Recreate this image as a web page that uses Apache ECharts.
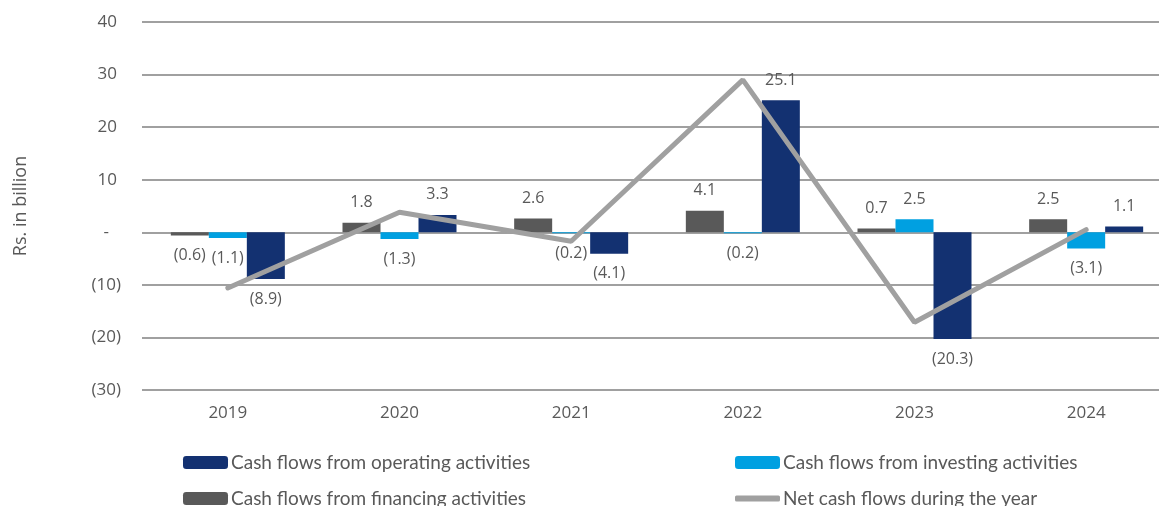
<!DOCTYPE html>
<html>
<head>
    <meta charset="utf-8"/>
    <title>Cash flows</title>
    <style>
        html, body { margin: 0; padding: 0; background: #fff; overflow: hidden; }
        /* the plot runs past the right edge of the window, as in the source image */
        #main { width: 1172px; height: 506px; }
    </style>
    <script src="https://cdn.jsdelivr.net/npm/echarts@6/dist/echarts.min.js"></script>
</head>
<body>
<div id="main"></div>
<script type="text/javascript">
    // data (Rs. in billion)
    var years = ['2019', '2020', '2021', '2022', '2023', '2024'];
    var operating = [-8.9, 3.3, -4.1, 25.1, -20.3, 1.1];
    var investing = [-1.1, -1.3, -0.2, -0.2, 2.5, -3.1];
    var financing = [-0.6, 1.8, 2.6, 4.1, 0.7, 2.5];
    var netFlows = [-10.6, 3.8, -1.7, 29.0, -17.1, 0.5];

    var names = ['Cash flows from operating activities', 'Cash flows from investing activities',
        'Cash flows from financing activities', 'Net cash flows during the year'];

    var txt = '#595959';
    var fnt = '"Open Sans", sans-serif';

    function fmt(v) {
        if (v < 0) return '(' + Math.abs(v).toFixed(1) + ')';
        return v.toFixed(1);
    }
    // negative bars get their label under the bar
    function barData(arr) {
        return arr.map(function (v) {
            return { value: v, label: { position: v < 0 ? 'bottom' : 'top' } };
        });
    }
    var barLabel = {
        show: true,
        distance: 12,
        color: txt,
        fontFamily: fnt,
        fontSize: 16,
        formatter: function (p) { return fmt(p.value); }
    };

    function legendAt(item, left, top, h) {
        return {
            data: [item],
            left: left,
            top: top,
            itemWidth: 45,
            itemHeight: h,
            textStyle: { color: txt, fontFamily: 'Lato, sans-serif', fontSize: 19, padding: [0, 0, 0, -2] },
            selectedMode: false
        };
    }

    var myChart = echarts.init(document.getElementById('main'));
    var option = {
        animation: false,
        grid: { left: 142, right: 0, top: 22, bottom: 116 },
        legend: [
            legendAt(names[0], 178, 448, 13),
            legendAt(names[1], 730, 448, 13),
            legendAt(names[2], 178, 484, 13),
            legendAt({ name: names[3], icon: 'roundRect' }, 730, 484, 6)
        ],
        xAxis: {
            type: 'category',
            data: years,
            axisLine: { show: false },
            axisTick: { show: false },
            axisLabel: { color: txt, fontFamily: fnt, fontSize: 17, margin: 15 }
        },
        yAxis: {
            type: 'value',
            min: -30,
            max: 40,
            interval: 10,
            name: 'Rs. in billion',
            nameLocation: 'middle',
            nameGap: 112,
            nameTextStyle: { color: txt, fontFamily: fnt, fontSize: 18 },
            axisLine: { show: false },
            axisTick: { show: false },
            splitLine: { lineStyle: { color: '#808080', width: 1.5 } },
            axisLabel: {
                margin: 21,
                formatter: function (v) {
                    if (v === 0) return '{z|-}';
                    if (v < 0) return '{n|(' + Math.abs(v) + ')}';
                    return '{p|' + v + '}';
                },
                rich: {
                    z: { color: txt, fontFamily: fnt, fontSize: 17, padding: [0, 12, 0, 0] },
                    n: { color: txt, fontFamily: fnt, fontSize: 17 },
                    p: { color: txt, fontFamily: fnt, fontSize: 17, padding: [0, 4, 0, 0] }
                }
            }
        },
        series: [
            {
                name: names[2],
                type: 'bar',
                barWidth: 38,
                barGap: '0%',
                itemStyle: { color: '#595959' },
                label: barLabel,
                data: barData(financing)
            },
            {
                name: names[1],
                type: 'bar',
                barWidth: 38,
                barGap: '0%',
                itemStyle: { color: '#00A0E1' },
                label: barLabel,
                data: barData(investing)
            },
            {
                name: names[0],
                type: 'bar',
                barWidth: 38,
                barGap: '0%',
                itemStyle: { color: '#133171' },
                label: barLabel,
                data: barData(operating)
            },
            {
                name: names[3],
                type: 'line',
                symbol: 'none',
                z: 5,
                lineStyle: { color: '#A0A0A0', width: 5, cap: 'round' },
                itemStyle: { color: '#A0A0A0' },
                data: netFlows
            }
        ]
    };
    myChart.setOption(option);
</script>
</body>
</html>
